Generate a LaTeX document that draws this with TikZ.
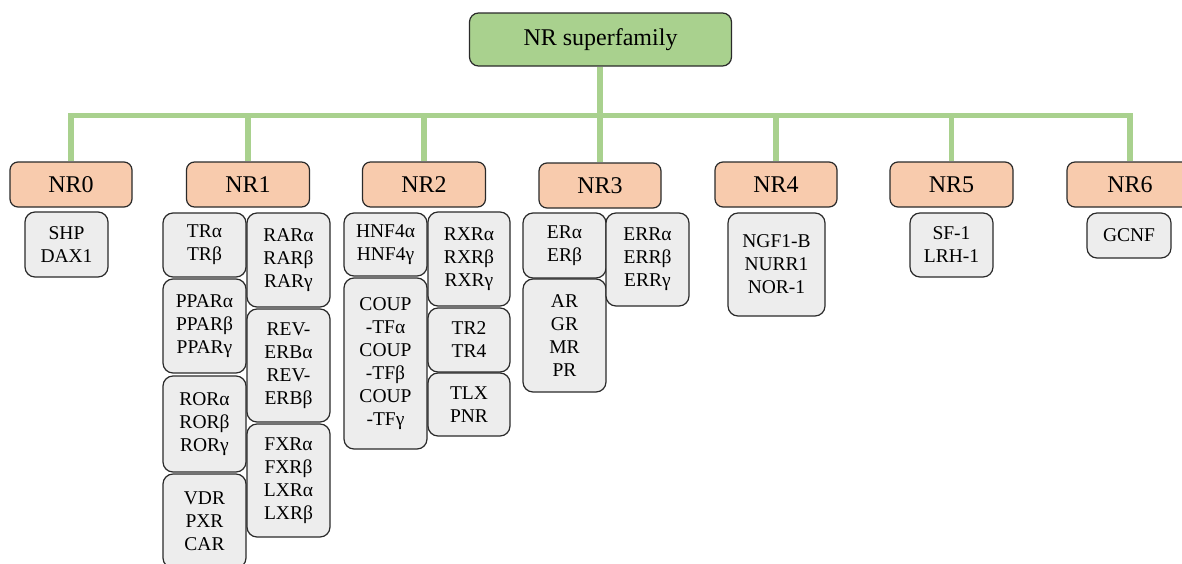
\documentclass[tikz,border=0pt]{standalone}
\usepackage{fontspec}
\setmainfont{Liberation Serif}
\usetikzlibrary{backgrounds}
\definecolor{gfill}{HTML}{A9D18E}
\definecolor{ofill}{HTML}{F8CBAD}
\definecolor{sfill}{HTML}{EDEDED}
\definecolor{edge}{HTML}{2A2A2A}
\tikzset{
  famnode/.style={draw=edge, line width=1.2pt, rounded corners=8pt, fill=ofill, inner sep=0pt, font=\fontsize{24}{26}\selectfont},
  topnode/.style={draw=edge, line width=1.2pt, rounded corners=9pt, fill=gfill, inner sep=0pt, font=\fontsize{24}{26}\selectfont},
  subnode/.style={draw=edge, line width=1.2pt, rounded corners=10pt, fill=sfill, inner sep=0pt, align=center, font=\fontsize{19.5}{23}\selectfont},
  sz/.style 2 args={minimum width=#1pt, minimum height=#2pt},
  greenline/.style={draw=gfill, line width=5.7pt}
}
\begin{document}
\begin{tikzpicture}[x=1pt,y=-1pt]
\clip (0,0) rectangle (1182,563);
\coordinate (bar) at (0,115.5);
\node[topnode, sz={262}{53}] (top) at (600.5,39.5) {NR superfamily};
\node[famnode, sz={122}{45}] (nr0) at (71,184.5) {NR0};
\node[famnode, sz={123}{45}] (nr1) at (248,184.5) {NR1};
\node[famnode, sz={123}{45}] (nr2) at (424,184.5) {NR2};
\node[famnode, sz={122}{45}] (nr3) at (600,185.5) {NR3};
\node[famnode, sz={122}{45}] (nr4) at (776,184.5) {NR4};
\node[famnode, sz={123}{45}] (nr5) at (951.5,184.5) {NR5};
\node[famnode, sz={126}{45}] (nr6) at (1130,184.5) {NR6};
\begin{scope}[on background layer]
\fill[white] (0,0) rectangle (1182,563);
\draw[greenline] (nr0.north) -- (nr0.north |- bar) -- (nr6.north |- bar) -- (nr6.north);
\draw[greenline] (top.south -| nr3.north) -- (nr3.north);
\foreach \n in {nr1,nr2,nr4,nr5}{
  \draw[greenline] (\n.north) -- (\n.north |- bar);
}
\end{scope}
% members
\node[subnode, sz={83}{65}] (shp) at (66.5,244.5) {SHP\\DAX1};
\node[subnode, sz={83}{64}] (tr) at (204.5,245) {TRα\\TRβ};
\node[subnode, sz={83}{94}] (ppar) at (204.5,326) {PPARα\\PPARβ\\PPARγ};
\node[subnode, sz={83}{96}] (ror) at (204.5,424) {RORα\\RORβ\\RORγ};
\node[subnode, sz={83}{94}] (vdr) at (204.5,521) {VDR\\PXR\\CAR};
\node[subnode, sz={83}{94}] (rar) at (288.5,260) {RARα\\RARβ\\RARγ};
\node[subnode, sz={83}{113}] (rev) at (288.5,365.5) {REV-\\ERBα\\REV-\\ERBβ};
\node[subnode, sz={83}{113}] (fxr) at (288.5,480.5) {FXRα\\FXRβ\\LXRα\\LXRβ};
\node[subnode, sz={83}{63}] (hnf) at (385.5,244.5) {HNF4α\\HNF4γ};
\node[subnode, sz={83}{171}] (coup) at (385.5,363.5) {COUP\\-TFα\\COUP\\-TFβ\\COUP\\-TFγ};
\node[subnode, sz={82}{94}] (rxr) at (469,259) {RXRα\\RXRβ\\RXRγ};
\node[subnode, sz={82}{64}] (tr2) at (469,340) {TR2\\TR4};
\node[subnode, sz={82}{63}] (tlx) at (469,404.5) {TLX\\PNR};
\node[subnode, sz={83}{65}] (er) at (564.5,245.5) {ERα\\ERβ};
\node[subnode, sz={83}{113}] (ar) at (564.5,335.5) {AR\\GR\\MR\\PR};
\node[subnode, sz={83}{93}] (err) at (647.5,259.5) {ERRα\\ERRβ\\ERRγ};
\node[subnode, sz={97}{103}] (ngf) at (776.5,264.5) {NGF1-B\\NURR1\\NOR-1};
\node[subnode, sz={83}{64}] (sf) at (951.5,245) {SF-1\\LRH-1};
\node[subnode, sz={84}{45}] (gcnf) at (1129,235.5) {GCNF};
\end{tikzpicture}
\end{document}
